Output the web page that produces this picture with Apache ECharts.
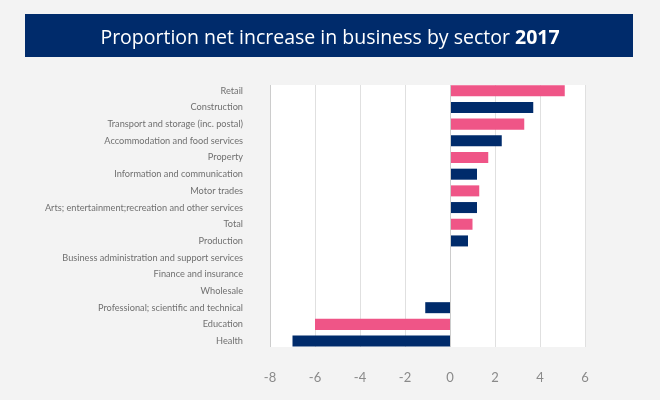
<!DOCTYPE html>
<html>
<head>
<meta charset="utf-8">
<script src="https://cdn.jsdelivr.net/npm/echarts@6/dist/echarts.min.js"></script>
<style>
html,body{margin:0;padding:0;background:#f3f3f3;}
#chart{width:660px;height:400px;}
</style>
</head>
<body>
<div id="chart"></div>
<script>
var categories = [
  "Retail",
  "Construction",
  "Transport and storage (inc. postal)",
  "Accommodation and food services",
  "Property",
  "Information and communication",
  "Motor trades",
  "Arts; entertainment;recreation and other services",
  "Total",
  "Production",
  "Business administration and support services",
  "Finance and insurance",
  "Wholesale",
  "Professional; scientific and technical",
  "Education",
  "Health"
];
var values = [5.1, 3.7, 3.3, 2.3, 1.7, 1.2, 1.3, 1.2, 1.0, 0.8, 0, 0, 0, -1.1, -6.0, -7.0];
var xTicks = [-8, -6, -4, -2, 0, 2, 4, 6];
var titleMain = "Proportion net increase in business by sector ";
var titleYear = "2017";

var PINK = "#ef5587", NAVY = "#002b6b";
var xMin = xTicks[0], xMax = xTicks[xTicks.length - 1];
var chart = echarts.init(document.getElementById("chart"), null, {renderer: "canvas"});
chart.setOption({
  backgroundColor: "#f3f3f3",
  animation: false,
  graphic: [{
    type: "rect",
    shape: {x: 25, y: 14, width: 608, height: 43},
    style: {fill: NAVY},
    z: 0
  }],
  title: {
    text: "{n|" + titleMain + "}{b|" + titleYear + "}",
    left: "center",
    top: 23,
    textStyle: {
      rich: {
        n: {color: "#ffffff", fontSize: 19.5, fontFamily: "Open Sans", fontWeight: "normal"},
        b: {color: "#ffffff", fontSize: 19.5, fontFamily: "Open Sans", fontWeight: "bold"}
      }
    }
  },
  grid: [
    {left: 270, right: 75, top: 85, bottom: 53, show: true, backgroundColor: "#ffffff", borderWidth: 0},
    {left: 270, right: 75, top: 82.4, bottom: 50.6, show: false}
  ],
  xAxis: [{
    gridIndex: 0,
    type: "value",
    min: xMin, max: xMax, interval: 2,
    axisLine: {show: false},
    axisTick: {show: false},
    splitLine: {show: true, lineStyle: {color: "#e0e0e0", width: 1}},
    axisLabel: {color: "#8a8a8a", fontSize: 13, fontFamily: "Lato", margin: 24}
  }, {
    gridIndex: 1,
    type: "value",
    min: xMin, max: xMax, interval: 2,
    show: false,
    splitLine: {show: false}
  }],
  yAxis: [{
    gridIndex: 0,
    type: "category",
    data: categories,
    inverse: true,
    show: false
  }, {
    gridIndex: 1,
    type: "category",
    data: categories,
    inverse: true,
    axisLine: {show: false},
    axisTick: {show: false},
    axisLabel: {color: "#707070", fontSize: 9.2, fontFamily: "Lato", margin: 27}
  }],
  series: [{
    type: "bar",
    xAxisIndex: 1,
    yAxisIndex: 1,
    data: values.map(function (v, i) {
      return {value: v, itemStyle: {color: i % 2 === 0 ? PINK : NAVY}};
    }),
    barCategoryGap: "34%",
    z: 3
  }, {
    type: "bar",
    xAxisIndex: 0,
    yAxisIndex: 0,
    data: [],
    markLine: {
      silent: true, symbol: "none", label: {show: false},
      lineStyle: {color: "#cccccc", type: "solid", width: 1},
      data: [{xAxis: 0}, {xAxis: -8}]
    },
    z: 2
  }]
});
</script>
</body>
</html>
